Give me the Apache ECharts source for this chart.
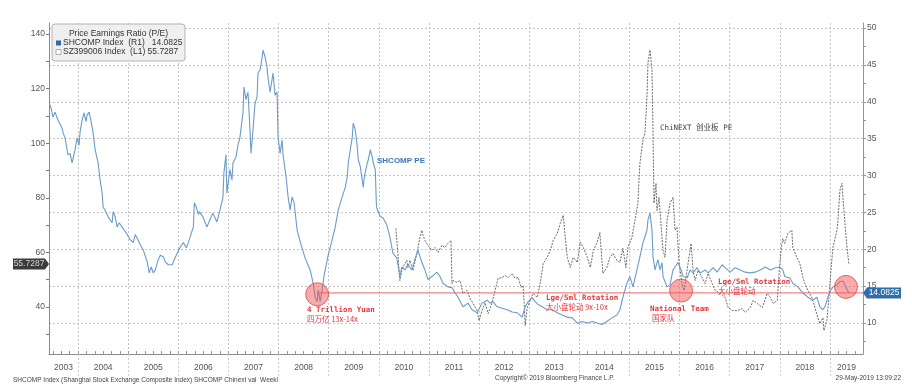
<!DOCTYPE html>
<html>
<head>
<meta charset="utf-8">
<script src="https://cdn.jsdelivr.net/npm/echarts@6/dist/echarts.min.js"></script>
<style>
html,body{margin:0;padding:0;background:#fff;}
#chart{width:912px;height:391px;}
</style>
</head>
<body>
<div id="chart"></div>
<script>
// ---------- DATA ----------
// SHCOMP Index P/E (right axis, R1) - decimal years
const shDates = [2003.44,2003.47,2003.50,2003.54,2003.60,2003.68,2003.70,2003.74,2003.78,2003.80,2003.84,2003.88,2003.90,2003.94,2003.98,2004.02,2004.04,2004.08,2004.12,2004.16,2004.18,2004.22,2004.26,2004.30,2004.34,2004.40,2004.44,2004.48,2004.50,2004.54,2004.60,2004.68,2004.70,2004.74,2004.78,2004.82,2004.88,2004.90,2004.98,2005.04,2005.10,2005.14,2005.18,2005.24,2005.30,2005.38,2005.42,2005.46,2005.50,2005.54,2005.60,2005.64,2005.70,2005.74,2005.80,2005.88,2005.90,2005.98,2006.04,2006.10,2006.16,2006.20,2006.26,2006.30,2006.32,2006.36,2006.40,2006.42,
2006.44,2006.49,2006.57,2006.63,2006.69,2006.77,2006.83,2006.89,2006.91,2006.95,2006.97,2007.03,2007.07,2007.09,2007.15,2007.19,2007.23,2007.29,2007.31,2007.35,2007.39,2007.43,2007.45,2007.49,2007.53,2007.57,2007.59,2007.63,2007.67,2007.69,2007.73,2007.77,2007.79,2007.83,2007.87,2007.89,2007.93,2007.97,2007.99,2008.03,2008.07,2008.09,2008.15,2008.19,2008.23,2008.27,2008.31,2008.37,2008.45,2008.53,2008.63,2008.69,2008.73,2008.77,2008.79,2008.83,2008.87,2008.91,2008.99,
2009.07,2009.13,2009.19,2009.27,2009.33,2009.37,2009.39,2009.47,2009.49,2009.53,2009.57,2009.59,2009.63,2009.69,2009.71,2009.77,2009.79,2009.83,2009.87,2009.89,2009.93,2009.95,2009.96,2010.03,2010.08,2010.16,2010.22,2010.28,2010.36,2010.42,2010.46,2010.52,2010.58,2010.66,2010.72,2010.78,2010.86,2010.92,2010.98,2011.06,2011.16,2011.22,2011.28,2011.38,2011.46,2011.52,2011.58,2011.68,2011.78,2011.86,2011.96,
2012.06,2012.16,2012.22,2012.28,2012.36,2012.46,2012.56,2012.66,2012.76,2012.86,2012.92,2012.98,2013.06,2013.12,2013.18,2013.26,2013.36,2013.46,2013.56,2013.66,2013.76,2013.86,2013.96,2014.06,2014.16,2014.26,2014.35,2014.45,2014.55,2014.65,2014.75,2014.81,2014.87,2014.95,2015.01,2015.07,2015.15,2015.21,2015.27,2015.31,2015.35,2015.37,2015.41,2015.45,2015.47,2015.51,2015.55,2015.57,2015.61,2015.65,2015.67,2015.75,2015.81,2015.87,2015.91,2015.97,
2016.03,2016.07,2016.15,2016.21,2016.27,2016.35,2016.41,2016.51,2016.57,2016.67,2016.75,2016.85,2016.91,2017.01,2017.11,2017.21,2017.31,2017.41,2017.51,2017.61,2017.71,2017.81,2017.91,2018.00,2018.06,2018.10,2018.20,2018.26,2018.36,2018.46,2018.56,2018.66,2018.74,2018.80,2018.86,2018.90,2018.96,2019.02,2019.06,2019.14,2019.20,2019.26,2019.32,2019.38];
const shPE = [39.6,38.9,37.9,38.6,37.5,36.4,35.8,35.1,33.5,32.8,33.0,31.7,31.8,33.5,35.1,34.1,35.9,37.5,38.5,37.3,38.2,38.6,37.3,35.8,33.5,31.7,29.4,27.6,25.7,25.3,24.4,23.6,25.1,24.4,23.0,23.6,23.0,22.9,22.0,21.3,20.9,22.0,21.5,20.6,19.9,18.3,16.8,17.6,16.8,17.2,18.6,19.2,19.0,18.3,17.9,17.9,18.3,19.5,20.3,20.9,20.2,20.9,22.2,23.0,26.3,25.7,24.7,25.1,
25.3,24.4,23.0,24.0,24.9,23.7,25.3,27.0,30.4,32.8,27.6,30.8,29.4,31.7,32.5,34.1,35.2,38.5,42.0,40.3,41.3,36.2,33.0,36.2,39.8,40.6,43.9,44.3,45.9,47.0,46.1,44.7,43.2,41.3,43.0,43.9,40.9,41.3,35.2,33.0,34.8,32.8,29.8,27.1,25.3,27.1,26.3,22.6,20.6,18.8,17.2,15.4,13.5,12.9,14.5,12.9,14.5,16.5,19.2,
21.3,23.0,25.3,27.1,28.4,29.8,31.7,35.2,37.1,36.2,33.9,32.1,31.2,28.4,29.8,31.7,32.1,33.5,32.5,31.7,30.8,26.3,25.6,24.4,24.3,23.3,21.7,19.5,18.8,16.3,17.6,17.2,17.9,17.2,18.6,19.9,18.2,17.2,15.9,16.3,16.9,16.3,15.4,14.9,14.8,14.1,13.5,12.2,12.7,11.8,11.4,
12.7,13.1,12.7,12.9,12.2,12.0,11.8,11.5,11.4,10.8,12.2,12.9,13.4,12.9,12.5,12.2,11.8,11.8,11.4,11.1,10.8,10.7,10.0,10.2,10.0,10.2,10.0,9.8,10.2,10.7,11.1,11.8,13.5,15.4,16.3,14.9,17.2,19.0,20.9,21.7,22.6,24.0,24.9,22.6,19.0,17.2,18.2,18.6,17.2,18.2,16.3,14.9,15.2,17.2,17.6,18.2,
17.2,16.3,16.1,17.2,16.8,17.5,16.8,17.2,16.8,17.5,16.9,17.9,17.5,16.9,17.5,17.2,16.9,16.8,16.9,17.2,17.6,17.2,17.5,17.6,17.2,16.3,16.1,15.4,14.9,14.1,13.5,13.1,13.5,12.2,11.8,12.2,13.5,14.5,14.9,15.2,15.6,15.7,14.8,14.0825];

// SZ399006 (ChiNext) Index P/E (left axis, L1)
const cnDates = [2010.34,2010.36,2010.38,2010.42,2010.46,2010.48,2010.56,2010.58,2010.62,2010.68,2010.76,2010.82,2010.86,2010.88,2010.92,2010.98,2011.06,2011.12,2011.18,2011.26,2011.32,2011.38,2011.44,2011.46,2011.48,2011.56,2011.62,2011.68,2011.76,2011.82,2011.88,2011.96,2012.00,2012.06,2012.12,2012.18,2012.26,2012.32,2012.38,2012.46,2012.52,2012.58,2012.66,2012.72,2012.78,2012.84,2012.88,2012.90,2012.92,2012.96,
2013.02,2013.08,2013.16,2013.22,2013.28,2013.36,2013.42,2013.48,2013.56,2013.62,2013.68,2013.72,2013.76,2013.82,2013.88,2013.96,2014.02,2014.08,2014.16,2014.22,2014.28,2014.35,2014.41,2014.47,2014.55,2014.61,2014.67,2014.75,2014.81,2014.87,2014.93,2014.97,2015.05,2015.11,2015.17,2015.19,2015.21,2015.25,2015.27,2015.31,2015.35,2015.37,2015.41,2015.45,2015.47,2015.49,2015.53,2015.55,2015.59,2015.65,2015.67,2015.71,2015.75,2015.81,2015.87,2015.91,2015.95,2015.99,
2016.05,2016.09,2016.15,2016.17,2016.23,2016.27,2016.31,2016.37,2016.45,2016.51,2016.57,2016.65,2016.71,2016.81,2016.91,2016.97,2017.05,2017.15,2017.25,2017.31,2017.41,2017.47,2017.55,2017.65,2017.75,2017.81,2017.87,2017.95,2017.99,2018.03,2018.06,2018.10,2018.16,2018.24,2018.26,2018.34,2018.40,2018.46,2018.50,2018.56,2018.64,2018.70,2018.76,2018.80,2018.86,2018.88,2018.94,2018.98,2019.02,2019.06,2019.14,2019.16,2019.20,2019.24,2019.26,2019.30,2019.34,2019.38];
const cnPE = [68.8,69.2,59.6,49.7,53.4,54.5,57.1,54.5,57.1,53.4,59.6,65.5,68.1,66.3,64.4,62.6,60.7,61.8,60.0,62.6,61.8,63.3,64.4,48.6,49.7,49.0,49.7,45.0,46.1,43.1,41.3,38.7,35.0,38.7,41.6,37.6,41.6,46.1,50.5,50.8,51.5,50.8,52.3,50.5,50.8,47.1,47.9,41.3,33.2,39.8,
42.4,45.0,43.5,48.6,56.0,58.2,60.7,64.4,67.0,70.6,73.6,65.5,58.2,54.5,58.2,56.3,63.7,61.8,58.2,54.5,60.7,63.3,67.3,52.3,54.5,58.2,59.6,57.1,56.3,61.5,54.5,61.8,65.5,71.7,78.0,86.4,92.7,98.5,101.1,103.7,116.9,129.4,134.1,126.8,104.8,78.0,85.3,75.4,80.2,65.5,60.7,58.2,71.7,78.0,80.2,68.1,69.2,56.0,
48.6,46.1,53.4,56.0,63.3,53.4,49.7,53.4,50.8,48.6,52.3,48.6,46.1,45.0,43.5,39.8,38.7,38.7,39.4,38.0,39.8,42.4,41.3,39.8,45.0,43.5,41.3,42.4,53.4,61.8,65.1,63.3,67.0,68.1,61.8,58.2,56.0,50.8,48.6,46.1,43.5,39.8,36.1,33.9,36.1,31.4,35.1,43.5,53.4,61.8,68.1,71.7,82.7,85.3,80.2,70.6,61.8,55.7287];

// Axis ticks / labels
const yearLines = [2004,2005,2006,2007,2008,2009,2010,2011,2012,2013,2014,2015,2016,2017,2018,2019];
const yearLabelPos = [2003.71,2004.5,2005.5,2006.5,2007.5,2008.5,2009.5,2010.5,2011.5,2012.5,2013.5,2014.5,2015.5,2016.5,2017.5,2018.5,2019.33];
const leftTicks = [30,40,50,60,70,80,90,100,110,120,130,140];
const leftLabels = [40,60,80,100,120,140];
const rightTicks = [7.5,10,12.5,15,17.5,20,22.5,25,27.5,30,32.5,35,37.5,40,42.5,45,47.5,50];
const rightLabels = [10,15,20,25,30,35,40,45,50];
const lastSH = 14.0825, lastCN = 55.7287;
// Annotated events (date, SHCOMP PE level)
const events = [[2008.77, 13.9],[2016.03, 14.4],[2019.32, 14.9]];

// ---------- CHART ----------
const X_MIN = 2003.42, X_MAX = 2019.66;
const bimonthly = [];
for (let y = 2003; y <= 2019; y++) for (let m = 0; m < 6; m++) { const v = +(y + m/6).toFixed(4); if (v > X_MIN && v < X_MAX) bimonthly.push(v); }

const FONT = 'Liberation Sans';
const chart = echarts.init(document.getElementById('chart'), null, {renderer:'canvas'});
const option = {
  animation: false,
  backgroundColor: '#ffffff',
  grid: {left: 49, right: 49, top: 23, bottom: 37},
  xAxis: [{
    type: 'value', min: X_MIN, max: X_MAX,
    axisLine: {lineStyle: {color: '#8a8a8a', width: 1}},
    axisTick: {customValues: yearLines, length: 22, lineStyle: {color: '#cfcfcf', type: [2,2]}},
    axisLabel: {customValues: yearLabelPos, formatter: v => String(Math.floor(v)), color: '#555', fontSize: 8.5, fontFamily: FONT, margin: 9},
    splitLine: {show: true, lineStyle: {color: '#c4c4c4', type: [2,2], width: 1}}
  },{
    type: 'value', min: X_MIN, max: X_MAX, position: 'bottom',
    axisLine: {show: false}, axisLabel: {show: false}, splitLine: {show: false},
    axisTick: {customValues: bimonthly, inside: true, length: 3, lineStyle: {color: '#999'}}
  }],
  yAxis: [{
    type: 'value', position: 'left', min: 22.8, max: 144.0,
    axisLine: {show: true, lineStyle: {color: '#8a8a8a'}},
    axisTick: {show: true, customValues: leftTicks, length: 3, lineStyle: {color: '#777'}},
    axisLabel: {customValues: leftLabels, color: '#555', fontSize: 8.5, fontFamily: FONT, margin: 4},
    splitLine: {show: false}
  },{
    type: 'value', position: 'right', min: 5.8, max: 50.68,
    axisLine: {show: true, lineStyle: {color: '#6f9fcc'}},
    axisTick: {show: true, customValues: rightTicks, length: 3, lineStyle: {color: '#6f9fcc'}},
    axisLabel: {customValues: rightLabels, color: '#555', fontSize: 8.5, fontFamily: FONT, margin: 4},
    splitLine: {show: false}
  },{
    type: 'value', position: 'right', min: 5.8, max: 50.68,
    axisLine: {show: false}, axisLabel: {show: false},
    axisTick: {show: false, customValues: rightLabels},
    splitLine: {show: true, lineStyle: {color: '#c4c4c4', type: [2,2], width: 1}}
  }],
  series: [{
    name: 'SZ399006 Index', type: 'line', xAxisIndex: 0, yAxisIndex: 0,
    data: cnDates.map((d,i) => [d, cnPE[i]]),
    showSymbol: false, symbol: 'none',
    lineStyle: {color: '#5a5a5a', width: 0.9, type: [2,1.2]},
    z: 2
  },{
    name: 'Current level', type: 'line', xAxisIndex: 0, yAxisIndex: 1,
    data: [[events[0][0], lastSH], [X_MAX, lastSH]],
    showSymbol: false, symbol: 'none', silent: true,
    lineStyle: {color: '#f06262', width: 1},
    z: 4
  },{
    name: 'SHCOMP Index', type: 'line', xAxisIndex: 0, yAxisIndex: 1,
    data: shDates.map((d,i) => [d, shPE[i]]),
    showSymbol: false, symbol: 'none',
    lineStyle: {color: '#6a9bca', width: 1.1},
    z: 3
  },{
    name: 'Events', type: 'scatter', xAxisIndex: 0, yAxisIndex: 1,
    data: events, symbol: 'circle', symbolSize: 23, silent: true,
    itemStyle: {color: 'rgba(240,84,84,0.62)', borderColor: '#e84848', borderWidth: 1},
    z: 5
  }]
};
chart.setOption(option);

const yCN = chart.convertToPixel({yAxisIndex: 0}, lastCN);
const ySH = chart.convertToPixel({yAxisIndex: 1}, lastSH);
const red = '#e8343c';
const mono = 'DejaVu Sans Mono';
function txt(x, y, s, opt) {
  return {type: 'text', x: x, y: y, silent: true, z: 100, style: Object.assign({text: s, fill: red, font: 'bold 7.5px "' + mono + '", "Noto Sans CJK SC"', textVerticalAlign: 'middle'}, opt || {})};
}
const cjk = '7.5px "Noto Sans CJK SC"';
chart.setOption({
  graphic: [
    // legend box
    {type: 'rect', shape: {x: 52, y: 24, width: 133, height: 37, r: 3}, style: {fill: '#efefef', stroke: '#b3b3b3', lineWidth: 1}, z: 100},
    {type: 'text', x: 118.5, y: 34, z: 101, style: {text: 'Price Earnings Ratio (P/E)', fill: '#333', font: '8.5px "' + FONT + '"', textAlign: 'center', textVerticalAlign: 'middle'}},
    {type: 'rect', shape: {x: 56, y: 40.5, width: 5, height: 5}, style: {fill: '#2f6aa8'}, z: 101},
    {type: 'text', x: 63, y: 43, z: 101, style: {text: 'SHCOMP Index  (R1)   14.0825', fill: '#333', font: '8.5px "' + FONT + '"', textVerticalAlign: 'middle'}},
    {type: 'rect', shape: {x: 56, y: 49.5, width: 5, height: 5}, style: {fill: '#fff', stroke: '#999', lineWidth: 0.8}, z: 101},
    {type: 'text', x: 63, y: 52, z: 101, style: {text: 'SZ399006 Index  (L1) 55.7287', fill: '#333', font: '8.5px "' + FONT + '"', textVerticalAlign: 'middle'}},
    // last value badges
    {type: 'polygon', shape: {points: [[13, yCN-5.5],[45, yCN-5.5],[49, yCN],[45, yCN+5.5],[13, yCN+5.5]]}, style: {fill: '#3b3b3b'}, z: 100},
    {type: 'text', x: 29, y: yCN, z: 101, style: {text: '55.7287', fill: '#d8d8d8', font: '8.5px "' + FONT + '"', textAlign: 'center', textVerticalAlign: 'middle'}},
    {type: 'polygon', shape: {points: [[863, ySH],[867, ySH-5.5],[901, ySH-5.5],[901, ySH+5.5],[867, ySH+5.5]]}, style: {fill: '#2f6ea8'}, z: 100},
    {type: 'text', x: 884, y: ySH, z: 101, style: {text: '14.0825', fill: '#fff', font: '8.5px "' + FONT + '"', textAlign: 'center', textVerticalAlign: 'middle'}},
    // annotations
    txt(307, 310, '4 Trillion Yuan'),
    txt(307, 319.5, '四万亿 13x-14x', {font: cjk}),
    txt(546, 298, 'Lge/Sml Rotation'),
    txt(546, 307.5, '大小盘轮动 9x-10x', {font: cjk}),
    txt(650, 309, 'National Team'),
    txt(652, 318.5, '国家队', {font: cjk}),
    txt(718, 282, 'Lge/Sml Rotation'),
    txt(718, 291, '大小盘轮动', {font: cjk}),
    txt(660, 128, 'ChiNEXT 创业板 PE', {fill: '#444', font: '7.5px "' + mono + '", "Noto Sans CJK SC"'}),
    txt(377, 161, 'SHCOMP PE', {fill: '#3a78b8', font: 'bold 8px "' + FONT + '"'}),
    // footer
    {type: 'text', x: 13, y: 380, z: 100, style: {text: 'SHCOMP Index (Shanghai Stock Exchange Composite Index) SHCOMP Chinext val  Weekl', fill: '#444', font: '6.5px "' + FONT + '"', textVerticalAlign: 'middle'}},
    {type: 'text', x: 495, y: 378, z: 100, style: {text: 'Copyright\u00A9 2019 Bloomberg Finance L.P.', fill: '#444', font: '6.5px "' + FONT + '"', textVerticalAlign: 'middle'}},
    {type: 'text', x: 901, y: 378, z: 100, style: {text: '29-May-2019 13:09:22', fill: '#444', font: '6.5px "' + FONT + '"', textAlign: 'right', textVerticalAlign: 'middle'}}
  ]
});
</script>
</body>
</html>
